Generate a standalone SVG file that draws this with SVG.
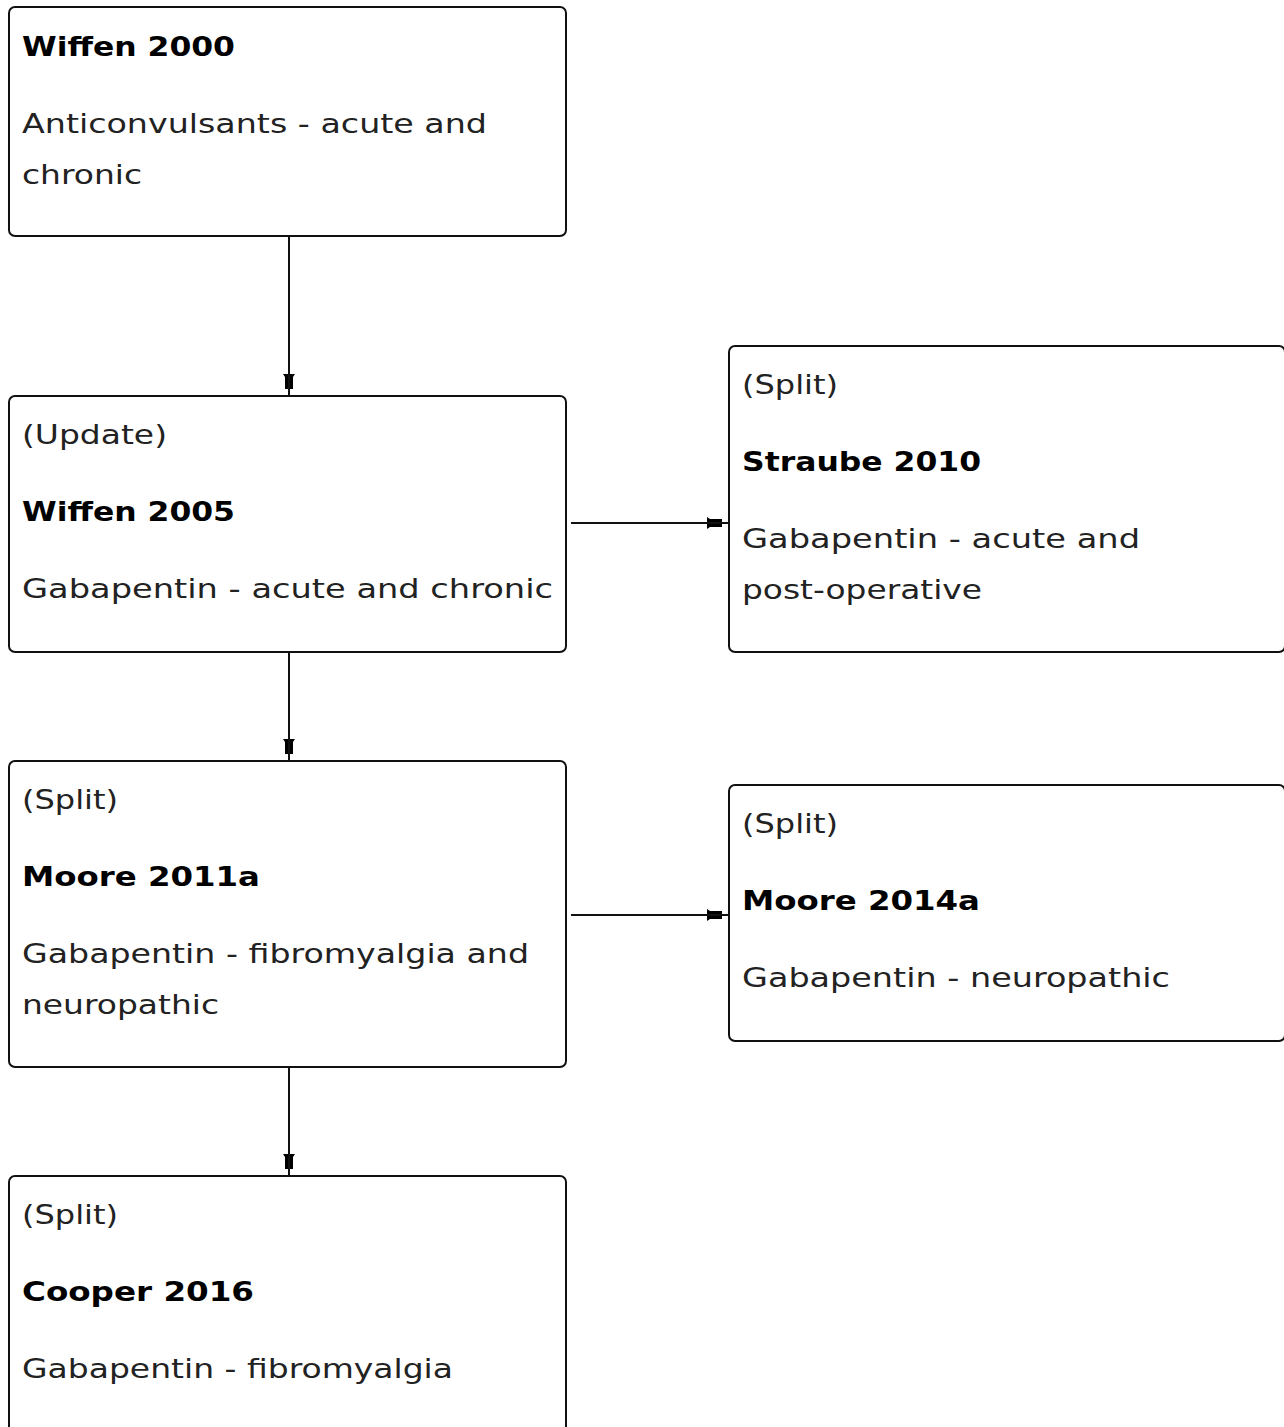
<svg xmlns="http://www.w3.org/2000/svg" width="1284" height="1427" viewBox="0 0 1284 1427">
<style>
.box{fill:#fff;stroke:#111;stroke-width:2}
.t{font-family:"DejaVu Sans","Liberation Sans",sans-serif;font-size:27px;fill:#222}
.b{font-weight:bold;fill:#000}
.c{stroke:#111;stroke-width:2;fill:none}
</style>
<defs>
<marker id="ah" markerUnits="userSpaceOnUse" viewBox="0 -7 22 14" refX="22" refY="0" markerWidth="22" markerHeight="14" orient="auto">
<path d="M0,-6 L3,-4 L15,-4 L15,4 L3,4 L0,6 Z" fill="#000"/>
<path d="M0,0 H22" stroke="#111" stroke-width="2"/>
</marker>
</defs>
<rect width="1284" height="1427" fill="#fff"/>
<g id="connectors">
<path class="c" d="M289,236 V396" marker-end="url(#ah)"/>
<path class="c" d="M289,652 V761" marker-end="url(#ah)"/>
<path class="c" d="M289,1067 V1176" marker-end="url(#ah)"/>
<path class="c" d="M571,523 H729" marker-end="url(#ah)"/>
<path class="c" d="M571,915 H729" marker-end="url(#ah)"/>
</g>
<g id="wiffen2000">
<rect class="box" x="9" y="7" width="557" height="229" rx="6"/>
<text class="t b" x="22" y="56" textLength="213" lengthAdjust="spacingAndGlyphs">Wiffen 2000</text>
<text class="t" x="22" y="133" textLength="465" lengthAdjust="spacingAndGlyphs">Anticonvulsants - acute and</text>
<text class="t" x="22" y="184" textLength="120" lengthAdjust="spacingAndGlyphs">chronic</text>
</g>
<g id="wiffen2005">
<rect class="box" x="9" y="396" width="557" height="256" rx="6"/>
<text class="t" x="22" y="444" textLength="145" lengthAdjust="spacingAndGlyphs">(Update)</text>
<text class="t b" x="22" y="521" textLength="213" lengthAdjust="spacingAndGlyphs">Wiffen 2005</text>
<text class="t" x="22" y="598" textLength="531" lengthAdjust="spacingAndGlyphs">Gabapentin - acute and chronic</text>
</g>
<g id="straube2010">
<rect class="box" x="729" y="346" width="556" height="306" rx="6"/>
<text class="t" x="742" y="394" textLength="96" lengthAdjust="spacingAndGlyphs">(Split)</text>
<text class="t b" x="742" y="471" textLength="239" lengthAdjust="spacingAndGlyphs">Straube 2010</text>
<text class="t" x="742" y="548" textLength="398" lengthAdjust="spacingAndGlyphs">Gabapentin - acute and</text>
<text class="t" x="742" y="599" textLength="240" lengthAdjust="spacingAndGlyphs">post-operative</text>
</g>
<g id="moore2011a">
<rect class="box" x="9" y="761" width="557" height="306" rx="6"/>
<text class="t" x="22" y="809" textLength="96" lengthAdjust="spacingAndGlyphs">(Split)</text>
<text class="t b" x="22" y="886" textLength="238" lengthAdjust="spacingAndGlyphs">Moore 2011a</text>
<text class="t" x="22" y="963" textLength="507" lengthAdjust="spacingAndGlyphs">Gabapentin - fibromyalgia and</text>
<text class="t" x="22" y="1014" textLength="197" lengthAdjust="spacingAndGlyphs">neuropathic</text>
</g>
<g id="moore2014a">
<rect class="box" x="729" y="785" width="556" height="256" rx="6"/>
<text class="t" x="742" y="833" textLength="96" lengthAdjust="spacingAndGlyphs">(Split)</text>
<text class="t b" x="742" y="910" textLength="238" lengthAdjust="spacingAndGlyphs">Moore 2014a</text>
<text class="t" x="742" y="987" textLength="428" lengthAdjust="spacingAndGlyphs">Gabapentin - neuropathic</text>
</g>
<g id="cooper2016">
<rect class="box" x="9" y="1176" width="557" height="270" rx="6"/>
<text class="t" x="22" y="1224" textLength="96" lengthAdjust="spacingAndGlyphs">(Split)</text>
<text class="t b" x="22" y="1301" textLength="232" lengthAdjust="spacingAndGlyphs">Cooper 2016</text>
<text class="t" x="22" y="1378" textLength="431" lengthAdjust="spacingAndGlyphs">Gabapentin - fibromyalgia</text>
</g>
</svg>
